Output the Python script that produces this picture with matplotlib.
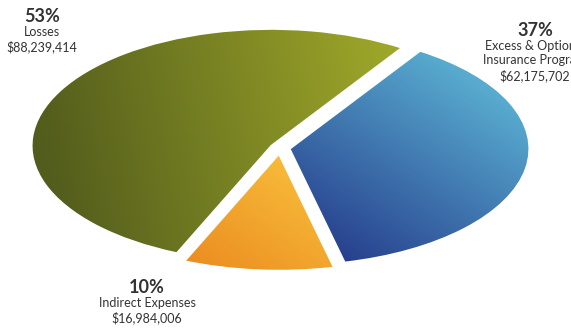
import numpy as np
import matplotlib.pyplot as plt
from matplotlib.colors import LinearSegmentedColormap

# budget split, dollars
names = ["Excess & Optional\nInsurance Program", "Indirect Expenses", "Losses"]
amounts = [62175702, 16984006, 88239414]
dark_colors = ["#263d8c", "#ec8f22", "#525c1c"]
light_colors = ["#58abcf", "#f8bd3a", "#a2ab2a"]
# gradient direction per slice (x, y), dark -> light
grad_dirs = [(0.8, 0.6), (0.7, 0.5), (1.0, 0.1)]

W, H = 571, 332
fig = plt.figure(figsize=(W / 100, H / 100), dpi=100)

# ellipse centre and semi axes in pixels
cx, cy, rx, ry = 280, 148, 240, 117
lim = 1.2
ax = fig.add_axes([(cx - lim * rx) / W, (H - cy - lim * ry) / H,
                   2 * lim * rx / W, 2 * lim * ry / H])

wedges, _ = ax.pie(amounts, startangle=57, counterclock=False,
                   explode=[0.04, 0.05, 0.04], radius=1.0,
                   wedgeprops=dict(edgecolor="white", linewidth=1.5))
ax.set_aspect("auto")
ax.set_xlim(-lim, lim)
ax.set_ylim(-lim, lim)
ax.axis("off")

gx, gy = np.meshgrid(np.linspace(-lim, lim, 300), np.linspace(-lim, lim, 300))
for w, c0, c1, d in zip(wedges, dark_colors, light_colors, grad_dirs):
    th1, th2 = np.radians(w.theta1), np.radians(w.theta2)
    # project onto direction, normalise over the slice extent
    pts = [(0, 0)] + [(np.cos(t), np.sin(t)) for t in np.linspace(th1, th2, 30)]
    proj = [p[0] * d[0] + p[1] * d[1] for p in pts]
    g = (gx * d[0] + gy * d[1] - min(proj)) / (max(proj) - min(proj))
    cmap = LinearSegmentedColormap.from_list("g", [c0, c1])
    im = ax.imshow(np.clip(g, 0, 1), cmap=cmap, origin="lower", aspect="auto",
                   extent=(-lim, lim, -lim, lim), zorder=1)
    im.set_clip_path(w)
    w.set_facecolor("none")
    w.set_zorder(2)

total = sum(amounts)
label_pos = [(535, 22), (147, 279), (42, 8)]
for name, amt, (x, y) in zip(names, amounts, label_pos):
    pct = f"{round(100 * amt / total)}%"
    fig.text(x / W, 1 - y / H, pct, ha="center", va="top", fontsize=13,
             fontweight="bold", family="Lato", color="#333333")
    fig.text(x / W, 1 - (y + 18) / H, f"{name}\n${amt:,}", ha="center",
             va="top", fontsize=9, family="Lato", color="#333333",
             linespacing=1.25)

fig.savefig("out.png", dpi=100)
